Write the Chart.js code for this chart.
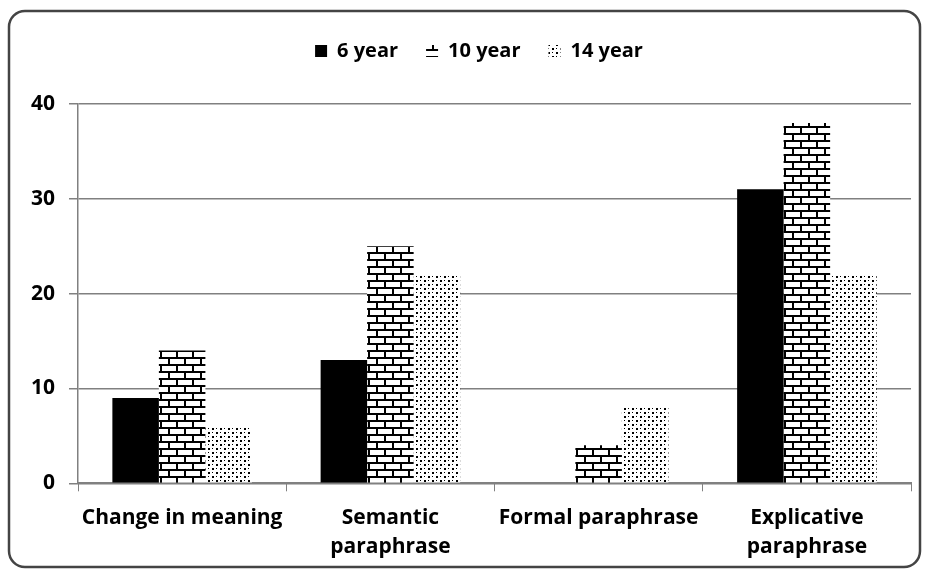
<!DOCTYPE html>
<html>
<head>
<meta charset="utf-8">
<script src="https://cdn.jsdelivr.net/npm/chart.js@4.4.0/dist/chart.umd.min.js"></script>
<style>
    html, body { margin: 0; padding: 0; background: #fff; }
    #wrap { position: absolute; left: 0; top: 0; width: 929px; height: 575px; }
</style>
</head>
<body>
<div id="wrap"><canvas id="paraChart" width="929" height="575"></canvas></div>
<script>
    // categories and series
    const categories = ["Change in meaning", ["Semantic", "paraphrase"], "Formal paraphrase", ["Explicative", "paraphrase"]];
    const seriesNames = ["6 year", "10 year", "14 year"];
    const year6 = [9, 13, 0, 31];
    const year10 = [14, 25, 4, 38];
    const year14 = [6, 22, 8, 22];
    const yTicks = [0, 10, 20, 30, 40];

    // brick pattern for the 10 year bars
    function brickPattern() {
        const c = document.createElement("canvas");
        c.width = 16;
        c.height = 14;
        const g = c.getContext("2d");
        g.fillStyle = "#000";
        g.fillRect(0, 0, 16, 14);
        g.fillStyle = "#fff";
        g.fillRect(2, 2, 14, 5);
        g.fillRect(0, 9, 8, 5);
        g.fillRect(10, 9, 6, 5);
        return g.createPattern(c, "repeat");
    }

    // dotted pattern for the 14 year bars
    function dotPattern() {
        const c = document.createElement("canvas");
        c.width = 8;
        c.height = 8;
        const g = c.getContext("2d");
        g.fillStyle = "#fff";
        g.fillRect(0, 0, 8, 8);
        g.fillStyle = "#000";
        g.fillRect(0, 0, 2, 2);
        g.fillRect(4, 4, 2, 2);
        g.fillRect(4, 0, 1, 1);
        g.fillRect(0, 4, 1, 1);
        return g.createPattern(c, "repeat");
    }

    // rounded frame around the whole chart
    const framePlugin = {
        id: "frame",
        beforeDraw(chart) {
            const ctx = chart.ctx;
            ctx.save();
            ctx.fillStyle = "#fff";
            ctx.fillRect(0, 0, chart.width, chart.height);
            ctx.strokeStyle = "#444";
            ctx.lineWidth = 2.5;
            ctx.beginPath();
            ctx.roundRect(9, 11, 911, 556, 16);
            ctx.stroke();
            ctx.restore();
        }
    };

    // extra room between the legend and the plot, legend a bit to the right
    const legendGap = {
        id: "legendGap",
        beforeInit(chart) {
            const fit = chart.legend.fit;
            chart.legend.fit = function () {
                fit.bind(chart.legend)();
                this.height += 33;
            };
        },
        afterLayout(chart) {
            chart.legend.left += 15;
            chart.legend.right += 15;
        }
    };

    const font = "'Open Sans', Lato, sans-serif";

    const chart = new Chart(document.getElementById("paraChart"), {
        type: "bar",
        data: {
            labels: categories,
            datasets: [
                { label: seriesNames[0], data: year6, backgroundColor: "#000" },
                { label: seriesNames[1], data: year10, backgroundColor: brickPattern() },
                { label: seriesNames[2], data: year14, backgroundColor: dotPattern() }
            ]
        },
        options: {
            responsive: false,
            animation: false,
            layout: { padding: { left: 17, right: 18, top: 13, bottom: 1 } },
            datasets: { bar: { categoryPercentage: 0.67, barPercentage: 1.0 } },
            plugins: {
                legend: {
                    position: "top",
                    labels: {
                        color: "#000",
                        font: { family: font, size: 20, weight: "bold" },
                        boxWidth: 12,
                        boxHeight: 12,
                        padding: 28
                    }
                },
                tooltip: { enabled: false }
            },
            scales: {
                x: {
                    grid: { display: true, drawOnChartArea: false, offset: true, color: "#808080", tickLength: 8 },
                    border: { color: "#808080", width: 2 },
                    ticks: { color: "#000", font: { family: font, size: 21, weight: "bold", lineHeight: 1.35 }, maxRotation: 0, padding: 13 }
                },
                y: {
                    min: 0,
                    max: 40,
                    afterBuildTicks(axis) { axis.ticks = yTicks.map(v => ({ value: v })); },
                    grid: { color: "#808080", lineWidth: 1.5, tickLength: 9 },
                    border: { color: "#808080", width: 1.5 },
                    ticks: { color: "#000", font: { family: font, size: 21, weight: "bold" }, padding: 14 }
                }
            }
        },
        plugins: [framePlugin, legendGap]
    });
</script>
</body>
</html>
